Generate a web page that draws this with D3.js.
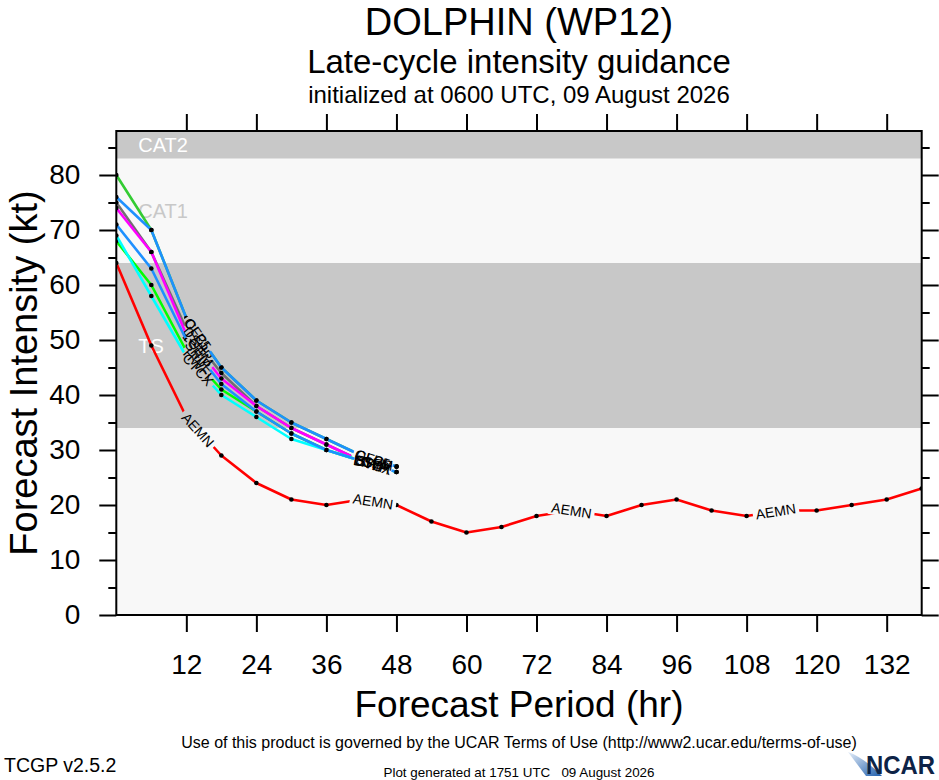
<!DOCTYPE html>
<html>
<head>
<meta charset="utf-8">
<script src="https://cdn.jsdelivr.net/npm/d3@7"></script>
<style>
  body { margin: 0; background: #fff; }
  svg { display: block; font-family: "Liberation Sans", Arial, sans-serif; }
  .tick line { stroke: #000; stroke-width: 2; }
  .tick text { font-size: 28px; fill: #000; }
</style>
</head>
<body>
<div id="chart-area"></div>
<script>
// storm / header text
const stormTitle = "DOLPHIN (WP12)";
const subTitle = "Late-cycle intensity guidance";
const initLine = "initialized at 0600 UTC, 09 August 2026";

// forecast hours
const earlyHours = [0, 6, 12, 18, 24, 30, 36, 42, 48];
const fullHours = [0, 6, 12, 18, 24, 30, 36, 42, 48, 54, 60, 66, 72, 78, 84, 90, 96, 102, 108, 114, 120, 126, 132, 138];

// intensity guidance (kt), drawn bottom to top
const modelNames = ["OFCL", "DSHP", "LGEM", "HWFI", "CTCX", "SHIP", "CLP5", "AEMN"];
const modelColors = ["#33cc33", "#707070", "#ff00ff", "#00ff00", "#00ffff", "#1e90ff", "#1e90ff", "#ff0000"];
const ofcl = [80, 70, 54, 45, 39, 35, 32, 29, 27];
const dshp = [75, 66, 52, 44, 38, 34, 31, 28, 27];
const lgem = [74, 66, 51, 43, 38, 34, 31, 28, 27];
const hwfi = [68, 60, 48, 41, 37, 33, 30, 28, 26];
const ctcx = [69, 58, 47, 40, 36, 32, 30, 28, 26];
const ship = [71, 63, 50, 42, 37, 33, 30, 28, 26];
const clp5 = [76, 70, 54, 45, 39, 35, 32, 29, 27];
const aemn = [64, 49, 36, 29, 24, 21, 20, 21, 20, 17, 15, 16, 18, 19, 18, 20, 21, 19, 18, 19, 19, 20, 21, 23];
const modelValues = [ofcl, dshp, lgem, hwfi, ctcx, ship, clp5, aemn];
const modelHours = [earlyHours, earlyHours, earlyHours, earlyHours, earlyHours, earlyHours, earlyHours, fullHours];

// where the line labels sit (hr)
const labelHours = [14, 44, 78, 113];

// intensity categories
const bandNames = ["TS", "CAT1", "CAT2"];
const bandLow = [34, 64, 83];
const bandHigh = [64, 83, 96];
const bandShaded = [true, false, true];

// ticks
const xTicks = [12, 24, 36, 48, 60, 72, 84, 96, 108, 120, 132];
const yTicks = [0, 10, 20, 30, 40, 50, 60, 70, 80];
const yMinorTicks = [5, 15, 25, 35, 45, 55, 65, 75, 85];

const chartSize = { width: 939, height: 780 };
const plot = { left: 116.3, right: 921.7, top: 131, bottom: 615 };

const x = d3.scaleLinear().domain([0, 138]).range([plot.left, plot.right]);
const y = d3.scaleLinear().domain([0, 88]).range([plot.bottom, plot.top]);

const svg = d3
  .select("#chart-area")
  .append("svg")
  .attr("width", chartSize.width)
  .attr("height", chartSize.height);

const defs = svg.append("defs");
defs
  .append("clipPath")
  .attr("id", "plot-clip")
  .append("rect")
  .attr("x", plot.left)
  .attr("y", plot.top)
  .attr("width", plot.right - plot.left)
  .attr("height", plot.bottom - plot.top);

// background + bands
svg
  .append("rect")
  .attr("x", plot.left)
  .attr("y", plot.top)
  .attr("width", plot.right - plot.left)
  .attr("height", plot.bottom - plot.top)
  .attr("fill", "#f8f8f8");

const bands = svg.append("g").attr("clip-path", "url(#plot-clip)");
bandNames.forEach((name, i) => {
  const top = Math.min(bandHigh[i], y.domain()[1]);
  bands
    .append("rect")
    .attr("x", plot.left)
    .attr("y", y(top))
    .attr("width", plot.right - plot.left)
    .attr("height", y(bandLow[i]) - y(top))
    .attr("fill", bandShaded[i] ? "#c8c8c8" : "#f8f8f8");
  svg
    .append("text")
    .attr("x", plot.left + 22)
    .attr("y", y((bandLow[i] + top) / 2))
    .attr("dy", "0.36em")
    .attr("font-size", 20)
    .attr("fill", bandShaded[i] ? "#ffffff" : "#c8c8c8")
    .text(name);
});

// model lines
const pointAt = (hrs, vals, h) => {
  let i = d3.bisectRight(hrs, h) - 1;
  i = Math.max(0, Math.min(i, hrs.length - 2));
  const x0 = x(hrs[i]), y0 = y(vals[i]);
  const x1 = x(hrs[i + 1]), y1 = y(vals[i + 1]);
  const t = (h - hrs[i]) / (hrs[i + 1] - hrs[i]);
  return {
    cx: x0 + (x1 - x0) * t,
    cy: y0 + (y1 - y0) * t,
    angle: (Math.atan2(y1 - y0, x1 - x0) * 180) / Math.PI
  };
};

const lineGen = d3
  .line()
  .x(d => x(d[0]))
  .y(d => y(d[1]));

const modelsG = svg.append("g").attr("clip-path", "url(#plot-clip)");

modelNames.forEach((name, m) => {
  const hrs = modelHours[m];
  const vals = modelValues[m];
  const pts = hrs.map((h, i) => [h, vals[i]]);
  const spots = labelHours
    .filter(h => h < hrs[hrs.length - 1])
    .map(h => pointAt(hrs, vals, h));

  const g = modelsG.append("g");
  const labels = g
    .selectAll("text.lbl")
    .data(spots)
    .enter()
    .append("text")
    .attr("class", "lbl")
    .attr("font-size", 14)
    .attr("text-anchor", "middle")
    .attr("dy", "0.36em")
    .attr("transform", s => `translate(${s.cx},${s.cy}) rotate(${s.angle})`)
    .text(name);
  const textW = labels.empty() ? 0 : labels.node().getComputedTextLength();

  const mask = defs
    .append("mask")
    .attr("id", `gap-${m}`)
    .attr("maskUnits", "userSpaceOnUse")
    .attr("x", 0)
    .attr("y", 0)
    .attr("width", chartSize.width)
    .attr("height", chartSize.height);
  mask
    .append("rect")
    .attr("width", chartSize.width)
    .attr("height", chartSize.height)
    .attr("fill", "#fff");
  spots.forEach(s => {
    mask
      .append("rect")
      .attr("x", -textW / 2 - 3)
      .attr("y", -7)
      .attr("width", textW + 6)
      .attr("height", 14)
      .attr("fill", "#000")
      .attr("transform", `translate(${s.cx},${s.cy}) rotate(${s.angle})`);
  });

  const lineG = g.insert("g", "text").attr("mask", `url(#gap-${m})`);
  lineG
    .append("path")
    .attr("d", lineGen(pts))
    .attr("fill", "none")
    .attr("stroke", modelColors[m])
    .attr("stroke-width", 2.6)
    .attr("stroke-linejoin", "round");
  lineG
    .selectAll("circle")
    .data(pts)
    .enter()
    .append("circle")
    .attr("cx", d => x(d[0]))
    .attr("cy", d => y(d[1]))
    .attr("r", 2.3)
    .attr("fill", "#000");
});

// axes
const yAxis = d3.axisLeft(y).tickValues(yTicks).tickSize(17).tickPadding(19).tickFormat(d3.format("d"));
const yMinor = d3.axisLeft(y).tickValues(yMinorTicks).tickSize(8).tickFormat("");
const yRight = d3.axisRight(y).tickValues(yTicks).tickSize(17).tickFormat("");
const yRightMinor = d3.axisRight(y).tickValues(yMinorTicks).tickSize(8).tickFormat("");
const xAxis = d3.axisBottom(x).tickValues(xTicks).tickSize(17).tickPadding(22).tickFormat(d3.format("d"));
const xTop = d3.axisTop(x).tickValues(xTicks).tickSize(17).tickFormat("");

const axes = [
  [yAxis, `translate(${plot.left},0)`],
  [yMinor, `translate(${plot.left},0)`],
  [yRight, `translate(${plot.right},0)`],
  [yRightMinor, `translate(${plot.right},0)`],
  [xAxis, `translate(0,${plot.bottom})`],
  [xTop, `translate(0,${plot.top})`]
];
axes.forEach(([axis, tr]) => {
  const a = svg.append("g").attr("transform", tr).call(axis);
  a.select(".domain").remove();
  a.attr("font-family", null).attr("font-size", null);
});

svg
  .append("rect")
  .attr("x", plot.left)
  .attr("y", plot.top)
  .attr("width", plot.right - plot.left)
  .attr("height", plot.bottom - plot.top)
  .attr("fill", "none")
  .attr("stroke", "#000")
  .attr("stroke-width", 2);

// titles
const midX = (plot.left + plot.right) / 2;
svg.append("text").attr("x", midX).attr("y", 35).attr("text-anchor", "middle").attr("font-size", 38).text(stormTitle);
svg.append("text").attr("x", midX).attr("y", 73).attr("text-anchor", "middle").attr("font-size", 33).text(subTitle);
svg.append("text").attr("x", midX).attr("y", 103).attr("text-anchor", "middle").attr("font-size", 24).text(initLine);

svg
  .append("text")
  .attr("x", midX)
  .attr("y", 717)
  .attr("text-anchor", "middle")
  .attr("font-size", 37)
  .text("Forecast Period (hr)");

svg
  .append("text")
  .attr("transform", `translate(37,${(plot.top + plot.bottom) / 2}) rotate(-90)`)
  .attr("text-anchor", "middle")
  .attr("font-size", 38)
  .text("Forecast Intensity (kt)");

// footer
svg
  .append("text")
  .attr("x", midX)
  .attr("y", 748)
  .attr("text-anchor", "middle")
  .attr("font-size", 16)
  .text("Use of this product is governed by the UCAR Terms of Use (http://www2.ucar.edu/terms-of-use)");

svg.append("text").attr("x", 4).attr("y", 772).attr("font-size", 19.5).text("TCGP v2.5.2");

svg
  .append("text")
  .attr("x", midX)
  .attr("y", 777)
  .attr("text-anchor", "middle")
  .attr("font-size", 13.4)
  .style("white-space", "pre")
  .text("Plot generated at 1751 UTC   09 August 2026");

// NCAR logo
const grad = defs
  .append("linearGradient")
  .attr("id", "ncar-grad")
  .attr("x1", "0")
  .attr("y1", "0")
  .attr("x2", "1")
  .attr("y2", "1");
grad.append("stop").attr("offset", "0%").attr("stop-color", "#e6eef8");
grad.append("stop").attr("offset", "100%").attr("stop-color", "#1f5fae");
svg
  .append("path")
  .attr("d", "M848,752 C860,756 872,766 882,776 L866,776 C860,768 854,760 848,752 Z")
  .attr("fill", "url(#ncar-grad)");
svg
  .append("text")
  .attr("x", 866)
  .attr("y", 774)
  .attr("font-size", 25)
  .attr("font-weight", "bold")
  .attr("fill", "#0d2346")
  .attr("textLength", 69)
  .attr("lengthAdjust", "spacingAndGlyphs")
  .text("NCAR");
</script>
</body>
</html>
